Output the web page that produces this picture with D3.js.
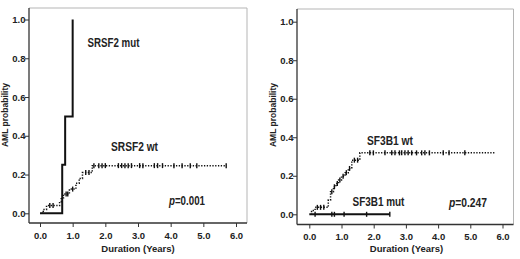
<!DOCTYPE html>
<html><head><meta charset="utf-8">
<script src="https://cdn.jsdelivr.net/npm/d3@7"></script>
<style>body{margin:0;background:#fff}svg{display:block}text{font-family:"Liberation Sans",Arial,sans-serif;font-weight:bold;fill:#222}</style>
</head><body><svg id="c" width="520" height="259"></svg>
<script>
const xTicks = [0,1,2,3,4,5,6];
const yTicks = [0,0.2,0.4,0.6,0.8,1.0];
// SRSF2 panel
const srsf2MutTimes = [0.0, 0.68, 0.77, 1.0];
const srsf2MutProb  = [0.0, 0.25, 0.5, 1.0];
const srsf2WtTimes  = [0.05, 0.1, 0.2, 0.6, 0.65, 0.72, 0.9, 1.1, 1.2, 1.3, 1.6, 5.7];
const srsf2WtProb   = [0.0, 0.02, 0.04, 0.06, 0.08, 0.1, 0.125, 0.155, 0.18, 0.21, 0.246, 0.246];
const srsf2WtCensor = [0.3, 0.4, 0.8, 0.85, 1.0, 1.4, 1.5, 1.65, 1.8, 1.9, 2.0, 2.4, 2.5, 2.6, 2.7, 2.8, 3.05, 3.15, 3.5, 3.6, 3.75, 4.1, 4.35, 4.6, 4.8, 5.7];
// SF3B1 panel
const sf3b1WtTimes  = [0.05, 0.07, 0.18, 0.59, 0.66, 0.75, 0.83, 0.91, 1.0, 1.11, 1.21, 1.32, 1.57, 5.77];
const sf3b1WtProb   = [0.0, 0.02, 0.036, 0.074, 0.117, 0.143, 0.16, 0.178, 0.198, 0.216, 0.238, 0.281, 0.319, 0.319];
const sf3b1WtCensor = [0.25, 0.35, 0.45, 0.7, 0.78, 0.87, 0.95, 1.05, 1.15, 1.25, 1.4, 1.5, 1.88, 1.99, 2.35, 2.56, 2.66, 2.8, 2.87, 2.97, 3.07, 3.18, 3.33, 3.49, 3.59, 3.73, 4.16, 4.34, 4.83];
const sf3b1MutTimes = [0.0, 2.5];
const sf3b1MutProb  = [0.0, 0.0];
const sf3b1MutCensor = [0.18, 0.7, 0.78, 1.08, 1.78, 2.5];

const svg = d3.select("#c");

function panel(cfg){
  const g = svg.append("g");
  const x = d3.scaleLinear().domain([0,6]).range([cfg.x0, cfg.x6]);
  const y = d3.scaleLinear().domain([0,1]).range([cfg.y0, cfg.y1]);
  g.append("line").attr("x1",cfg.L).attr("x2",cfg.R).attr("y1",cfg.T).attr("y2",cfg.T).attr("stroke","#b5b5b5").attr("stroke-width",1);
  g.append("line").attr("x1",cfg.R).attr("x2",cfg.R).attr("y1",cfg.T).attr("y2",cfg.B).attr("stroke","#b5b5b5").attr("stroke-width",1);
  g.append("line").attr("x1",cfg.L).attr("x2",cfg.L).attr("y1",cfg.T).attr("y2",cfg.B).attr("stroke","#333").attr("stroke-width",1.3);
  g.append("line").attr("x1",cfg.L).attr("x2",cfg.R).attr("y1",cfg.B).attr("y2",cfg.B).attr("stroke","#333").attr("stroke-width",1.3);
  const ya = g.append("g").attr("transform",`translate(${cfg.L},0)`)
    .call(d3.axisLeft(y).tickValues(yTicks).tickFormat(d3.format(".1f")).tickSize(4).tickSizeOuter(0));
  ya.select(".domain").remove();
  ya.selectAll("text").attr("font-size",9.5).attr("fill","#333").attr("x",-3.5);
  ya.selectAll("line").attr("stroke","#333");
  const xa = g.append("g").attr("transform",`translate(0,${cfg.B})`)
    .call(d3.axisBottom(x).tickValues(xTicks).tickFormat(d3.format(".1f")).tickSize(4).tickSizeOuter(0));
  xa.select(".domain").remove();
  xa.selectAll("text").attr("font-size",9.5).attr("fill","#333").attr("y",9);
  xa.selectAll("line").attr("stroke","#333");
  g.append("text").attr("transform",`translate(${cfg.ylx},${cfg.yly}) rotate(-90)`).attr("text-anchor","middle").attr("font-size",8.5).text("AML probability");
  g.append("text").attr("x",cfg.xlx).attr("y",252).attr("text-anchor","middle").attr("font-size",9.5).text("Duration (Years)");
  const line = d3.line().curve(d3.curveStepAfter).x(d=>x(d[0])).y(d=>y(d[1]));
  function stepVal(times, probs, t){ const i = d3.bisectRight(times, t)-1; return probs[Math.max(0,i)]; }
  cfg.series.forEach(s=>{
    const pts = s.times.map((t,i)=>[t,s.probs[i]]);
    g.append("path").attr("d",line(pts)).attr("fill","none").attr("stroke","#111")
      .attr("stroke-width",s.dash?1.5:2).attr("stroke-dasharray",s.dash?"1.3,1.5":null);
    (s.censor||[]).forEach(t=>{
      const v = stepVal(s.times,s.probs,t);
      g.append("line").attr("x1",x(t)).attr("x2",x(t)).attr("y1",y(v)-2.5).attr("y2",y(v)+2.5).attr("stroke","#111").attr("stroke-width",1.4);
    });
  });
  cfg.labels.forEach(l=>{
    const t = g.append("text").attr("x",0).attr("y",0).attr("font-size",12.5);
    if(l.p){ t.append("tspan").attr("font-style","italic").text("p"); t.append("tspan").text(l.text);} else t.text(l.text);
    const len = t.node().getComputedTextLength() || l.w;
    t.attr("transform",`translate(${l.x},${l.y}) scale(${l.w/len},1)`);
  });
}

panel({L:29,R:247,T:8,B:223,x0:40,x6:236,y0:213.3,y1:19.5,ylx:8,yly:115,xlx:138,
  series:[
    {times:srsf2MutTimes,probs:srsf2MutProb,dash:false},
    {times:srsf2WtTimes,probs:srsf2WtProb,dash:true,censor:srsf2WtCensor}
  ],
  labels:[{x:87.5,y:47,w:52,text:"SRSF2 mut"},{x:111,y:151,w:47,text:"SRSF2 wt"},{x:169,y:205,w:36,text:"=0.001",p:true}]
});
panel({L:297,R:513.5,T:9,B:224.5,x0:309.3,x6:502.5,y0:214.3,y1:21.7,ylx:276,yly:115,xlx:406.5,
  series:[
    {times:sf3b1WtTimes,probs:sf3b1WtProb,dash:true,censor:sf3b1WtCensor},
    {times:sf3b1MutTimes,probs:sf3b1MutProb,dash:false,censor:sf3b1MutCensor}
  ],
  labels:[{x:367,y:145,w:46,text:"SF3B1 wt"},{x:352.5,y:206,w:52,text:"SF3B1 mut"},{x:449,y:207,w:38,text:"=0.247",p:true}]
});
</script></body></html>
